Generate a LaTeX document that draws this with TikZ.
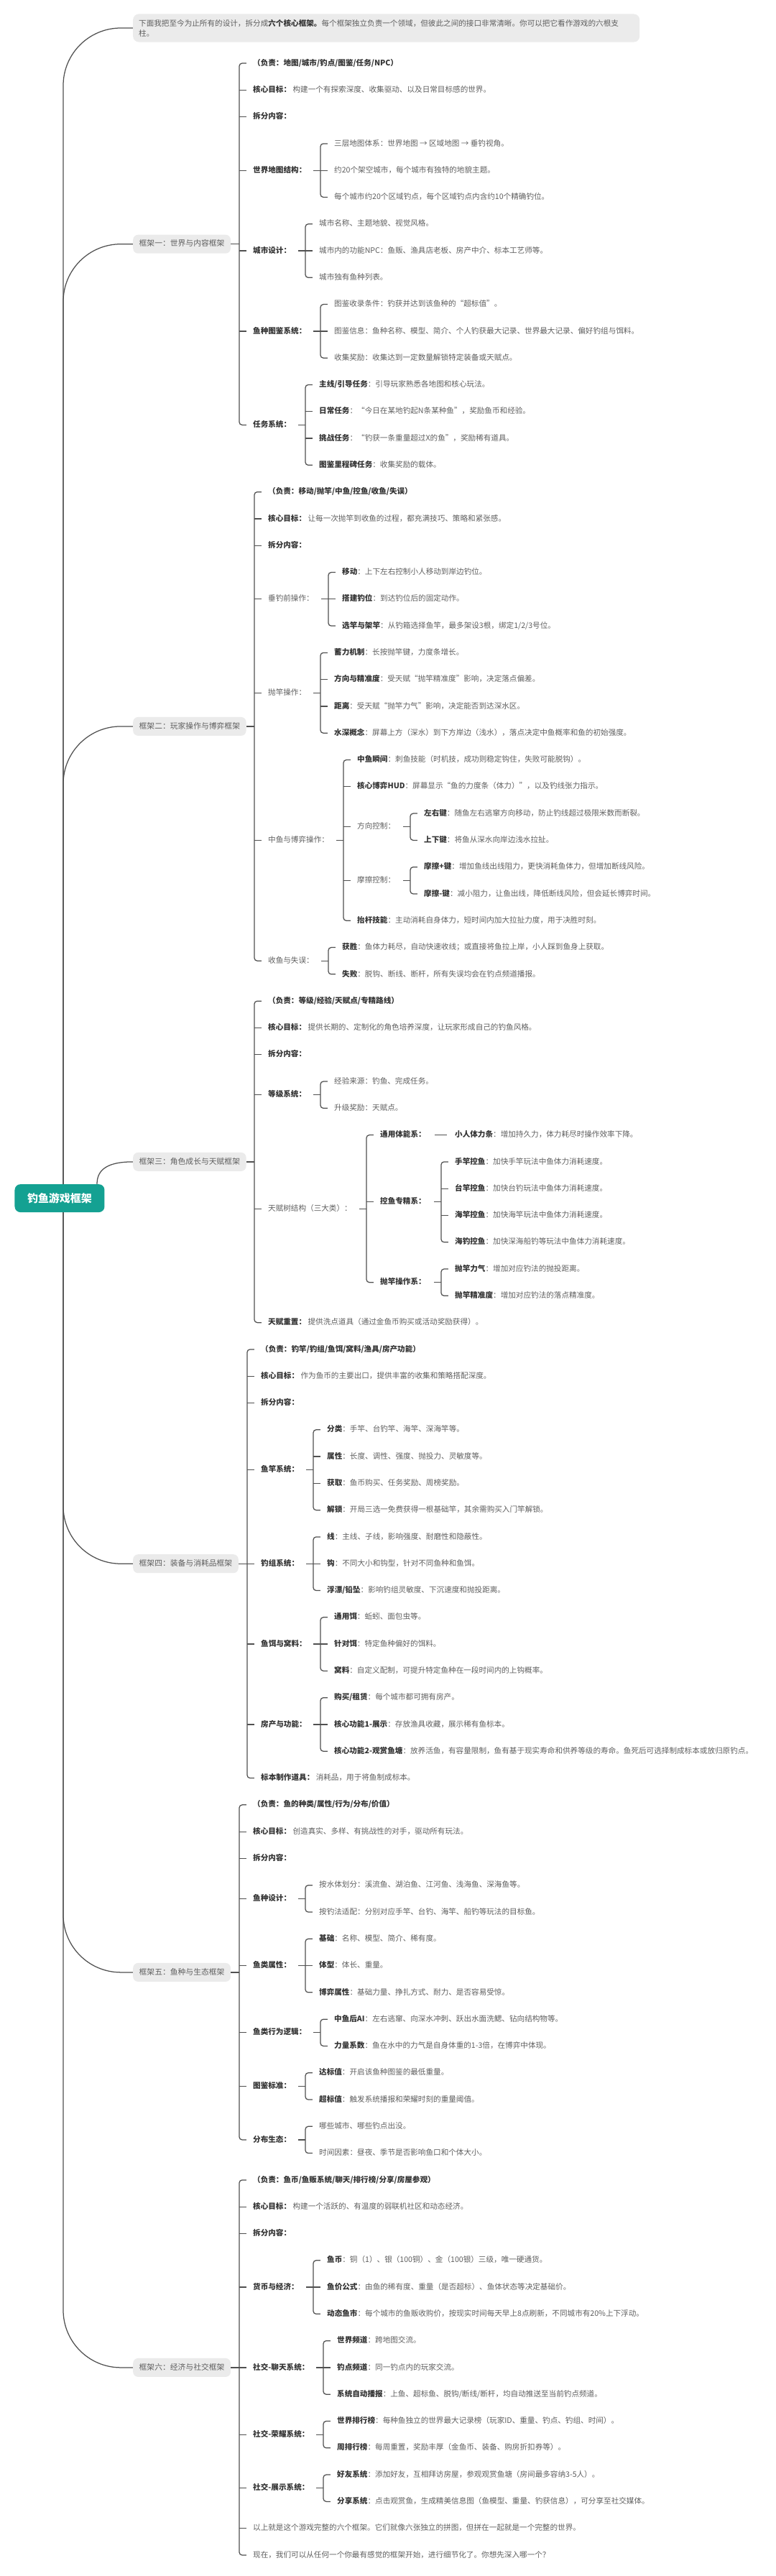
\documentclass[tikz,border=0pt]{standalone}
\usepackage{fontspec}
\setmainfont{Noto Sans CJK SC}
\usetikzlibrary{calc}
\definecolor{txt}{HTML}{5E5E5E}
\definecolor{txb}{HTML}{333333}
\definecolor{lnc}{HTML}{505050}
\definecolor{boxc}{HTML}{EBEBEB}
\definecolor{rootc}{HTML}{14A192}
\newcommand\kb[1]{{\bfseries\color{txb}#1}}
\newcommand\nd[4]{\node[lf] (#1) at (#2,#3) {#4};}
\newcommand\tk[1]{\draw[conn] ($(#1.west)+(-19,0)$) -- ($(#1.west)+(-9,0)$);}
\newcommand\grp[3]{\path ($(#2.west)+(-19,0)$) coordinate (S);
 \draw[conn] ($(#1.east -| S)+(-10,0)$) -- (#1.east -| S);
 \draw[conn,rounded corners=4pt] ($(#2.west)+(-9,0)$) -- (#2.west -| S) -- (#3.west -| S) -- ($(#3.west)+(-9,0)$);}
\newcommand\bgrp[3]{\path ($(#2.west)+(-19,0)$) coordinate (S);
 \draw[conn] (#1.east) -- (#1.east -| S);
 \draw[conn,rounded corners=4pt] ($(#2.west)+(-9,0)$) -- (#2.west -| S) -- (#3.west -| S) -- ($(#3.west)+(-9,0)$);}
\pgfdeclarelayer{bg}
\pgfsetlayers{bg,main}
\tikzset{
 lf/.style={anchor=west, inner sep=0pt, text=txt, font=\fontsize{10.6pt}{13pt}\selectfont, text height=8.5pt, text depth=2.2pt},
 conn/.style={draw=lnc, line width=1.25pt},
 brb/.style={anchor=west, fill=boxc, rounded corners=7pt, text=txt, font=\fontsize{10.8pt}{13pt}\selectfont, inner xsep=8.5pt, inner ysep=0pt, minimum height=26pt, text height=8.5pt, text depth=2.2pt},
 rootb/.style={fill=rootc, rounded corners=8pt, text=white, font=\fontsize{15pt}{17pt}\selectfont\bfseries, minimum width=125pt, minimum height=39pt, inner sep=0pt},
 noteb/.style={anchor=west, fill=boxc, rounded corners=8pt, text=txt, font=\fontsize{10.6pt}{14pt}\selectfont, text width=689pt, align=left, inner xsep=8pt, inner ysep=7.5pt}
}
\begin{document}
\begin{tikzpicture}
\begin{scope}[x=1pt, y=-37.29pt, yshift=-88pt]
\useasboundingbox (0,-2.36) rectangle (1080,93.78);
% root and note
\node[rootb] (R) at (83,42.36) {钓鱼游戏框架};
\coordinate (T) at (88,42.36);
\node[noteb] (N) at (185,-1.314) {下面我把至今为止所有的设计，拆分成\kb{六个核心框架。}每个框架独立负责一个领域，但彼此之间的接口非常清晰。你可以把它看作游戏的六根支\\柱。};
% branch boxes
\node[brb] (B1) at (185,6.75) {框架一：世界与内容框架};
\node[brb] (B2) at (185,24.75) {框架二：玩家操作与博弈框架};
\node[brb] (B3) at (185,41) {框架三：角色成长与天赋框架};
\node[brb] (B4) at (185,56) {框架四：装备与消耗品框架};
\node[brb] (B5) at (185,71.25) {框架五：鱼种与生态框架};
\node[brb] (B6) at (185,86) {框架六：经济与社交框架};
\begin{pgfonlayer}{bg}
\foreach \b in {N,B1,B2,B4,B5,B6}
  \draw[conn, rounded corners=80pt] (T) -- (T |- \b.west) -- (\b.west);
\draw[conn] ($(R.north)+(52,0)$) .. controls ($(R.north)+(52,-0.55)$) and ($(B3.west)+(-35,0)$) .. (B3.west);
\end{pgfonlayer}

% ---------- Branch 1
\nd{a0}{352}{0}{\kb{（负责：地图/城市/钓点/图鉴/任务/NPC）}}
\nd{a1}{352}{1}{\kb{核心目标：}\ 构建一个有探索深度、收集驱动、以及日常目标感的世界。}
\nd{a2}{352}{2}{\kb{拆分内容：}}
\nd{a3}{352}{4}{\kb{世界地图结构：}}
\nd{a31}{465}{3}{三层地图体系：世界地图 → 区域地图 → 垂钓视角。}
\nd{a32}{465}{4}{约20个架空城市，每个城市有独特的地貌主题。}
\nd{a33}{465}{5}{每个城市约20个区域钓点，每个区域钓点内含约10个精确钓位。}
\nd{a4}{352}{7}{\kb{城市设计：}}
\nd{a41}{444}{6}{城市名称、主题地貌、视觉风格。}
\nd{a42}{444}{7}{城市内的功能NPC：鱼贩、渔具店老板、房产中介、标本工艺师等。}
\nd{a43}{444}{8}{城市独有鱼种列表。}
\nd{a5}{352}{10}{\kb{鱼种图鉴系统：}}
\nd{a51}{465}{9}{图鉴收录条件：钓获并达到该鱼种的“超标值”。}
\nd{a52}{465}{10}{图鉴信息：鱼种名称、模型、简介、个人钓获最大记录、世界最大记录、偏好钓组与饵料。}
\nd{a53}{465}{11}{收集奖励：收集达到一定数量解锁特定装备或天赋点。}
\nd{a6}{352}{13.5}{\kb{任务系统：}}
\nd{a61}{444}{12}{\kb{主线/引导任务}：引导玩家熟悉各地图和核心玩法。}
\nd{a62}{444}{13}{\kb{日常任务}：“今日在某地钓起N条某种鱼”，奖励鱼币和经验。}
\nd{a63}{444}{14}{\kb{挑战任务}：“钓获一条重量超过X的鱼”，奖励稀有道具。}
\nd{a64}{444}{15}{\kb{图鉴里程碑任务}：收集奖励的载体。}
\bgrp{B1}{a0}{a6}\tk{a1}\tk{a2}\tk{a3}\tk{a4}\tk{a5}
\grp{a3}{a31}{a33}\tk{a32}
\grp{a4}{a41}{a43}\tk{a42}
\grp{a5}{a51}{a53}\tk{a52}
\grp{a6}{a61}{a64}\tk{a62}\tk{a63}

% ---------- Branch 2
\nd{b0}{373}{16}{\kb{（负责：移动/抛竿/中鱼/控鱼/收鱼/失误）}}
\nd{b1}{373}{17}{\kb{核心目标：}\ 让每一次抛竿到收鱼的过程，都充满技巧、策略和紧张感。}
\nd{b2}{373}{18}{\kb{拆分内容：}}
\nd{b3}{373}{20}{垂钓前操作：}
\nd{b31}{476}{19}{\kb{移动}：上下左右控制小人移动到岸边钓位。}
\nd{b32}{476}{20}{\kb{搭建钓位}：到达钓位后的固定动作。}
\nd{b33}{476}{21}{\kb{选竿与架竿}：从钓箱选择鱼竿，最多架设3根，绑定1/2/3号位。}
\nd{b4}{373}{23.5}{抛竿操作：}
\nd{b41}{465}{22}{\kb{蓄力机制}：长按抛竿键，力度条增长。}
\nd{b42}{465}{23}{\kb{方向与精准度}：受天赋“抛竿精准度”影响，决定落点偏差。}
\nd{b43}{465}{24}{\kb{距离}：受天赋“抛竿力气”影响，决定能否到达深水区。}
\nd{b44}{465}{25}{\kb{水深概念}：屏幕上方（深水）到下方岸边（浅水），落点决定中鱼概率和鱼的初始强度。}
\nd{b5}{373}{29}{中鱼与博弈操作：}
\nd{b51}{497}{26}{\kb{中鱼瞬间}：刺鱼技能（时机技，成功则稳定钩住，失败可能脱钩）。}
\nd{b52}{497}{27}{\kb{核心博弈HUD}：屏幕显示“鱼的力度条（体力）”，以及钓线张力指示。}
\nd{b53}{497}{28.5}{方向控制：}
\nd{b531}{590}{28}{\kb{左右键}：随鱼左右逃窜方向移动，防止钓线超过极限米数而断裂。}
\nd{b532}{590}{29}{\kb{上下键}：将鱼从深水向岸边浅水拉扯。}
\nd{b54}{497}{30.5}{摩擦控制：}
\nd{b541}{590}{30}{\kb{摩擦+键}：增加鱼线出线阻力，更快消耗鱼体力，但增加断线风险。}
\nd{b542}{590}{31}{\kb{摩擦-键}：减小阻力，让鱼出线，降低断线风险，但会延长博弈时间。}
\nd{b55}{497}{32}{\kb{抬杆技能}：主动消耗自身体力，短时间内加大拉扯力度，用于决胜时刻。}
\nd{b6}{373}{33.5}{收鱼与失误：}
\nd{b61}{476}{33}{\kb{获胜}：鱼体力耗尽，自动快速收线；或直接将鱼拉上岸，小人踩到鱼身上获取。}
\nd{b62}{476}{34}{\kb{失败}：脱钩、断线、断杆，所有失误均会在钓点频道播报。}
\bgrp{B2}{b0}{b6}\tk{b1}\tk{b2}\tk{b3}\tk{b4}\tk{b5}
\grp{b3}{b31}{b33}\tk{b32}
\grp{b4}{b41}{b44}\tk{b42}\tk{b43}
\grp{b5}{b51}{b55}\tk{b52}\tk{b53}\tk{b54}
\grp{b53}{b531}{b532}
\grp{b54}{b541}{b542}
\grp{b6}{b61}{b62}

% ---------- Branch 3
\nd{c0}{373}{35}{\kb{（负责：等级/经验/天赋点/专精路线）}}
\nd{c1}{373}{36}{\kb{核心目标：}\ 提供长期的、定制化的角色培养深度，让玩家形成自己的钓鱼风格。}
\nd{c2}{373}{37}{\kb{拆分内容：}}
\nd{c3}{373}{38.5}{\kb{等级系统：}}
\nd{c31}{465}{38}{经验来源：钓鱼、完成任务。}
\nd{c32}{465}{39}{升级奖励：天赋点。}
\nd{c4}{373}{42.75}{天赋树结构（三大类）：}
\nd{c41}{529}{40}{\kb{通用体能系：}}
\nd{c411}{633}{40}{\kb{小人体力条}：增加持久力，体力耗尽时操作效率下降。}
\nd{c42}{529}{42.5}{\kb{控鱼专精系：}}
\nd{c421}{633}{41}{\kb{手竿控鱼}：加快手竿玩法中鱼体力消耗速度。}
\nd{c422}{633}{42}{\kb{台竿控鱼}：加快台钓玩法中鱼体力消耗速度。}
\nd{c423}{633}{43}{\kb{海竿控鱼}：加快海竿玩法中鱼体力消耗速度。}
\nd{c424}{633}{44}{\kb{海钓控鱼}：加快深海船钓等玩法中鱼体力消耗速度。}
\nd{c43}{529}{45.5}{\kb{抛竿操作系：}}
\nd{c431}{633}{45}{\kb{抛竿力气}：增加对应钓法的抛投距离。}
\nd{c432}{633}{46}{\kb{抛竿精准度}：增加对应钓法的落点精准度。}
\nd{c5}{373}{47}{\kb{天赋重置：}\ 提供洗点道具（通过金鱼币购买或活动奖励获得）。}
\bgrp{B3}{c0}{c5}\tk{c1}\tk{c2}\tk{c3}\tk{c4}
\grp{c3}{c31}{c32}
\grp{c4}{c41}{c43}\tk{c42}
\draw[conn] ($(c411.west)+(-28,0)$) -- ($(c411.west)+(-11,0)$);
\grp{c42}{c421}{c424}\tk{c422}\tk{c423}
\grp{c43}{c431}{c432}

% ---------- Branch 4
\nd{d0}{363}{48}{\kb{（负责：钓竿/钓组/鱼饵/窝料/渔具/房产功能）}}
\nd{d1}{363}{49}{\kb{核心目标：}\ 作为鱼币的主要出口，提供丰富的收集和策略搭配深度。}
\nd{d2}{363}{50}{\kb{拆分内容：}}
\nd{d3}{363}{52.5}{\kb{鱼竿系统：}}
\nd{d31}{455}{51}{\kb{分类}：手竿、台钓竿、海竿、深海竿等。}
\nd{d32}{455}{52}{\kb{属性}：长度、调性、强度、抛投力、灵敏度等。}
\nd{d33}{455}{53}{\kb{获取}：鱼币购买、任务奖励、周榜奖励。}
\nd{d34}{455}{54}{\kb{解锁}：开局三选一免费获得一根基础竿，其余需购买入门竿解锁。}
\nd{d4}{363}{56}{\kb{钓组系统：}}
\nd{d41}{455}{55}{\kb{线}：主线、子线，影响强度、耐磨性和隐蔽性。}
\nd{d42}{455}{56}{\kb{钩}：不同大小和钩型，针对不同鱼种和鱼饵。}
\nd{d43}{455}{57}{\kb{浮漂/铅坠}：影响钓组灵敏度、下沉速度和抛投距离。}
\nd{d5}{363}{59}{\kb{鱼饵与窝料：}}
\nd{d51}{465}{58}{\kb{通用饵}：蚯蚓、面包虫等。}
\nd{d52}{465}{59}{\kb{针对饵}：特定鱼种偏好的饵料。}
\nd{d53}{465}{60}{\kb{窝料}：自定义配制，可提升特定鱼种在一段时间内的上钩概率。}
\nd{d6}{363}{62}{\kb{房产与功能：}}
\nd{d61}{465}{61}{\kb{购买/租赁}：每个城市都可拥有房产。}
\nd{d62}{465}{62}{\kb{核心功能1-展示}：存放渔具收藏，展示稀有鱼标本。}
\nd{d63}{465}{63}{\kb{核心功能2-观赏鱼塘}：放养活鱼，有容量限制，鱼有基于现实寿命和供养等级的寿命。鱼死后可选择制成标本或放归原钓点。}
\nd{d7}{363}{64}{\kb{标本制作道具：}\ 消耗品，用于将鱼制成标本。}
\bgrp{B4}{d0}{d7}\tk{d1}\tk{d2}\tk{d3}\tk{d4}\tk{d5}\tk{d6}
\grp{d3}{d31}{d34}\tk{d32}\tk{d33}
\grp{d4}{d41}{d43}\tk{d42}
\grp{d5}{d51}{d53}\tk{d52}
\grp{d6}{d61}{d63}\tk{d62}

% ---------- Branch 5
\nd{e0}{352}{65}{\kb{（负责：鱼的种类/属性/行为/分布/价值）}}
\nd{e1}{352}{66}{\kb{核心目标：}\ 创造真实、多样、有挑战性的对手，驱动所有玩法。}
\nd{e2}{352}{67}{\kb{拆分内容：}}
\nd{e3}{352}{68.5}{\kb{鱼种设计：}}
\nd{e31}{444}{68}{按水体划分：溪流鱼、湖泊鱼、江河鱼、浅海鱼、深海鱼等。}
\nd{e32}{444}{69}{按钓法适配：分别对应手竿、台钓、海竿、船钓等玩法的目标鱼。}
\nd{e4}{352}{71}{\kb{鱼类属性：}}
\nd{e41}{444}{70}{\kb{基础}：名称、模型、简介、稀有度。}
\nd{e42}{444}{71}{\kb{体型}：体长、重量。}
\nd{e43}{444}{72}{\kb{博弈属性}：基础力量、挣扎方式、耐力、是否容易受惊。}
\nd{e5}{352}{73.5}{\kb{鱼类行为逻辑：}}
\nd{e51}{465}{73}{\kb{中鱼后AI}：左右逃窜、向深水冲刺、跃出水面洗鳃、钻向结构物等。}
\nd{e52}{465}{74}{\kb{力量系数}：鱼在水中的力气是自身体重的1-3倍，在博弈中体现。}
\nd{e6}{352}{75.5}{\kb{图鉴标准：}}
\nd{e61}{444}{75}{\kb{达标值}：开启该鱼种图鉴的最低重量。}
\nd{e62}{444}{76}{\kb{超标值}：触发系统播报和荣耀时刻的重量阈值。}
\nd{e7}{352}{77.5}{\kb{分布生态：}}
\nd{e71}{444}{77}{哪些城市、哪些钓点出没。}
\nd{e72}{444}{78}{时间因素：昼夜、季节是否影响鱼口和个体大小。}
\bgrp{B5}{e0}{e7}\tk{e1}\tk{e2}\tk{e3}\tk{e4}\tk{e5}\tk{e6}
\grp{e3}{e31}{e32}
\grp{e4}{e41}{e43}\tk{e42}
\grp{e5}{e51}{e52}
\grp{e6}{e61}{e62}
\grp{e7}{e71}{e72}

% ---------- Branch 6
\nd{f0}{352}{79}{\kb{（负责：鱼币/鱼贩系统/聊天/排行榜/分享/房屋参观）}}
\nd{f1}{352}{80}{\kb{核心目标：}\ 构建一个活跃的、有温度的弱联机社区和动态经济。}
\nd{f2}{352}{81}{\kb{拆分内容：}}
\nd{f3}{352}{83}{\kb{货币与经济：}}
\nd{f31}{455}{82}{\kb{鱼币}：铜（1）、银（100铜）、金（100银）三级，唯一硬通货。}
\nd{f32}{455}{83}{\kb{鱼价公式}：由鱼的稀有度、重量（是否超标）、鱼体状态等决定基础价。}
\nd{f33}{455}{84}{\kb{动态鱼市}：每个城市的鱼贩收购价，按现实时间每天早上8点刷新，不同城市有20\%上下浮动。}
\nd{f4}{352}{86}{\kb{社交-聊天系统：}}
\nd{f41}{469}{85}{\kb{世界频道}：跨地图交流。}
\nd{f42}{469}{86}{\kb{钓点频道}：同一钓点内的玩家交流。}
\nd{f43}{469}{87}{\kb{系统自动播报}：上鱼、超标鱼、脱钩/断线/断杆，均自动推送至当前钓点频道。}
\nd{f5}{352}{88.5}{\kb{社交-荣耀系统：}}
\nd{f51}{469}{88}{\kb{世界排行榜}：每种鱼独立的世界最大记录榜（玩家ID、重量、钓点、钓组、时间）。}
\nd{f52}{469}{89}{\kb{周排行榜}：每周重置，奖励丰厚（金鱼币、装备、购房折扣券等）。}
\nd{f6}{352}{90.5}{\kb{社交-展示系统：}}
\nd{f61}{469}{90}{\kb{好友系统}：添加好友，互相拜访房屋，参观观赏鱼塘（房间最多容纳3-5人）。}
\nd{f62}{469}{91}{\kb{分享系统}：点击观赏鱼，生成精美信息图（鱼模型、重量、钓获信息），可分享至社交媒体。}
\nd{f7}{352}{92}{以上就是这个游戏完整的六个框架。它们就像六张独立的拼图，但拼在一起就是一个完整的世界。}
\nd{f8}{352}{93}{现在，我们可以从任何一个你最有感觉的框架开始，进行细节化了。你想先深入哪一个？}
\bgrp{B6}{f0}{f8}\tk{f1}\tk{f2}\tk{f3}\tk{f4}\tk{f5}\tk{f6}\tk{f7}
\grp{f3}{f31}{f33}\tk{f32}
\grp{f4}{f41}{f43}\tk{f42}
\grp{f5}{f51}{f52}
\grp{f6}{f61}{f62}
\end{scope}
\end{tikzpicture}
\end{document}
